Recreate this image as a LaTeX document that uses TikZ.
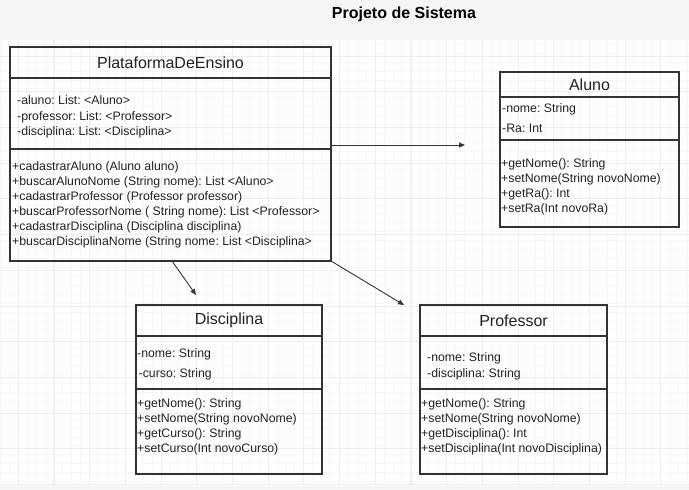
\documentclass[tikz,border=0pt]{standalone}
\usepackage{fontspec}
\setmainfont{Liberation Sans}
\usepackage{xcolor}
\usetikzlibrary{arrows.meta,positioning}
\frenchspacing

\definecolor{umlline}{HTML}{333333}
\definecolor{umltext}{HTML}{222222}
\definecolor{pagebg}{HTML}{F5F5F5}
\definecolor{majorgrid}{HTML}{EDEDED}
\definecolor{minorgrid}{HTML}{F7F7F7}

\begin{document}
\begin{tikzpicture}[x=1pt,y=-1pt]
\tikzstyle{umlhead}=[draw=umlline,line width=1.3pt,outer sep=0pt,inner sep=0pt,
    text=umltext,font=\fontsize{16}{19}\selectfont]
\tikzstyle{umlpart}=[draw=umlline,line width=1.3pt,outer sep=0pt,inner sep=0pt]
\tikzstyle{umlmembers}=[anchor=north west,inner sep=0pt,align=left,text=umltext,
    font=\fontsize{12.3}{15}\selectfont]
\tikzstyle{assoc}=[draw=umlline,line width=0.9pt,-{Triangle[length=6pt,width=5pt]}]

\useasboundingbox (0,0) rectangle (689,490);

%% page and grid
\fill[pagebg] (0,0) rectangle (689,490);
\fill[white] (0,40) rectangle (689,486);
\foreach \gx in {0,...,77}
    \draw[minorgrid,line width=0.5pt] ({0.15+\gx*8.925},40) -- ({0.15+\gx*8.925},486);
\foreach \gy in {0,...,49}
    \draw[minorgrid,line width=0.5pt] (0,{44.1+\gy*8.925}) -- (689,{44.1+\gy*8.925});
\foreach \gx in {0,...,19}
    \draw[majorgrid,line width=0.8pt] ({18.2+\gx*35.7},40) -- ({18.2+\gx*35.7},486);
\foreach \gy in {0,...,12}
    \draw[majorgrid,line width=0.8pt] (0,{56+\gy*35.7}) -- (689,{56+\gy*35.7});

\node[font=\bfseries\fontsize{16}{18}\selectfont,text=black] (title) at (404,14) {Projeto de Sistema};

%% PlataformaDeEnsino
\node[umlhead,minimum width=321pt,minimum height=31pt] (plat) at (170.5,62.5) {PlataformaDeEnsino};
\node[umlpart,minimum width=321pt,minimum height=71pt,below=0pt of plat] (platattr) {};
\node[umlpart,minimum width=321pt,minimum height=112pt,below=0pt of platattr] (platops) {};
\node[umlmembers,font=\fontsize{12.3}{15.5}\selectfont] (platattrtext) at (17,95.5)
    {-aluno: List: <Aluno>\\-professor: List: <Professor>\\-disciplina: List: <Disciplina>};
\node[umlmembers] (platopstext) at (12,161.5)
    {+cadastrarAluno (Aluno aluno)\\
     +buscarAlunoNome (String nome): List <Aluno>\\
     +cadastrarProfessor (Professor professor)\\
     +buscarProfessorNome ( String nome): List <Professor>\\
     +cadastrarDisciplina (Disciplina disciplina)\\
     +buscarDisciplinaNome (String nome: List <Disciplina>};

%% Aluno
\node[umlhead,minimum width=179pt,minimum height=25pt] (aluno) at (589.5,84.5) {Aluno};
\node[umlpart,minimum width=179pt,minimum height=43pt,below=0pt of aluno] (alunoattr) {};
\node[umlpart,minimum width=179pt,minimum height=87pt,below=0pt of alunoattr] (alunoops) {};
\node[umlmembers,font=\fontsize{12.3}{20}\selectfont] (alunoattrtext) at (502,103.5)
    {-nome: String\\-Ra: Int};
\node[umlmembers] (alunoopstext) at (501,158.5)
    {+getNome(): String\\+setNome(String novoNome)\\+getRa(): Int\\+setRa(Int novoRa)};

%% Disciplina
\node[umlhead,minimum width=186pt,minimum height=31pt] (disc) at (229,320.5) {Disciplina};
\node[umlpart,minimum width=186pt,minimum height=53pt,below=0pt of disc] (discattr) {};
\node[umlpart,minimum width=186pt,minimum height=85pt,below=0pt of discattr] (discops) {};
\node[umlmembers,font=\fontsize{12.3}{20}\selectfont] (discattrtext) at (137,348.5)
    {-nome: String\\\hspace*{1.5pt}-curso: String};
\node[umlmembers] (discopstext) at (137,398.5)
    {+getNome(): String\\+setNome(String novoNome)\\+getCurso(): String\\+setCurso(Int novoCurso)};

%% Professor
\node[umlhead,minimum width=187pt,minimum height=31pt] (prof) at (513.5,320.5) {Professor};
\node[umlpart,minimum width=187pt,minimum height=53pt,below=0pt of prof] (profattr) {};
\node[umlpart,minimum width=187pt,minimum height=85pt,below=0pt of profattr] (profops) {};
\node[umlmembers,font=\fontsize{12.3}{16}\selectfont] (profattrtext) at (427,352.5)
    {-nome: String\\-disciplina: String};
\node[umlmembers] (profopstext) at (421,398.5)
    {+getNome(): String\\+setNome(String novoNome)\\+getDisciplina(): Int\\+setDisciplina(Int novoDisciplina)};

%% associations
\coordinate (toaluno) at (465,145);
\coordinate (todisc) at (196,295);
\coordinate (toprof) at (404,305);
\draw[assoc] ([yshift=4pt]platops.north east) -- (toaluno);
\draw[assoc] ([xshift=1.5pt]platops.south) -- (todisc);
\draw[assoc] (platops.south east) -- (toprof);
\end{tikzpicture}
\end{document}
